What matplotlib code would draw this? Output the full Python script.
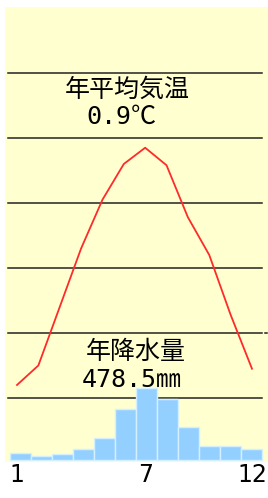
import matplotlib
matplotlib.use('Agg')
import matplotlib.pyplot as plt

plt.rcParams['font.family'] = ['Noto Sans CJK JP', 'DejaVu Sans']

months = list(range(1, 13))
temp = [-18.0, -15.0, -6.0, 3.0, 10.5, 16.0, 18.5, 15.8, 7.8, 2.0, -7.2, -15.5]
precip = [11, 6, 9, 17, 34, 80, 113, 95, 52, 22, 22, 17.5]
grid_temps = [-20, -10, 0, 10, 20, 30]
tick_months = [1, 7, 12]
tick_labels = ['1', '7', '12']
title_temp = '年平均気温'
mean_temp = '0.9℃'
title_prec = '年降水量'
total_prec = '478.5㎜'

W, H = 268, 498
fig = plt.figure(figsize=(W / 100, H / 100), dpi=100)
fig.patch.set_facecolor('white')

rect = [5 / W, 1 - 462 / H, 263 / W, 455 / H]

# temperature axes (background, grid, line)
ax_t = fig.add_axes(rect)
ax_t.set_facecolor('#ffffd0')
ax_t.set_xlim(0.438, 12.75)
ax_t.set_ylim(-29.85, 40.15)
for t in grid_temps:
    ax_t.axhline(t, xmin=0.011, xmax=0.977, color='#222222', lw=1.1, zorder=1)
ax_t.axhline(-10, xmin=0.989, xmax=0.997, color='#222222', lw=1.1, zorder=1)
ax_t.plot(months, temp, color='#ff2a2a', lw=1.3, zorder=3)
ax_t.set_xticks(tick_months)
ax_t.set_xticklabels(tick_labels, fontsize=17, family='DejaVu Sans')
ax_t.tick_params(axis='x', length=0, pad=1)
ax_t.set_yticks([])
for s in ax_t.spines.values():
    s.set_visible(False)

# precipitation axes (bars on top)
ax_p = fig.add_axes(rect)
ax_p.patch.set_visible(False)
ax_p.bar(months, precip, width=1.0, color='#94d0ff', edgecolor='#d4f0ff', lw=1.0)
ax_p.set_xlim(0.262, 12.786)
ax_p.set_ylim(-3.1, 707.8)
ax_p.set_xticks([])
ax_p.set_yticks([])
for s in ax_p.spines.values():
    s.set_visible(False)

mono = ['DejaVu Sans Mono', 'Noto Sans CJK JP']

def px_text(x, y, s, **kw):
    fig.text(x / W, 1 - y / H, s, ha='center', va='center', color='black', **kw)

px_text(127, 90, title_temp, fontsize=18)
px_text(121, 117, mean_temp, fontsize=18, family=mono)
px_text(136, 352, title_prec, fontsize=18)
px_text(132, 380, total_prec, fontsize=18, family=mono)

fig.savefig('out.png', dpi=100)
